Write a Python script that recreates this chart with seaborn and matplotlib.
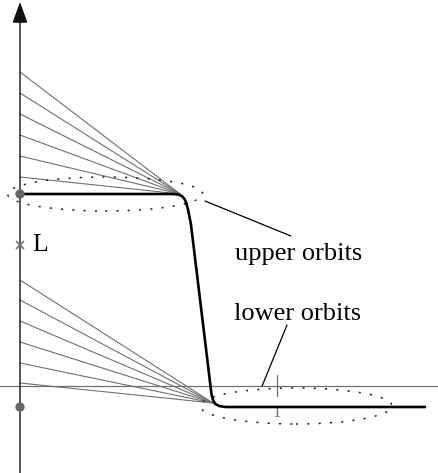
import numpy as np
import pandas as pd
import matplotlib
matplotlib.use("Agg")
import matplotlib.pyplot as plt
import seaborn as sns
from matplotlib.patches import Ellipse

sns.set_theme(style="white")
plt.rcParams['font.family'] = ['Liberation Serif', 'DejaVu Serif']

# ---- data ----
curve_x = [0.0, 0.595, 0.615, 0.630, 0.640, 0.647, 0.654, 0.665, 0.745, 0.751, 0.760, 0.775, 0.800, 0.860, 1.576]
curve_y = [1.92, 1.92, 1.915, 1.90, 1.87, 1.83, 1.76, 1.62, -0.08, -0.14, -0.18, -0.20, -0.21, -0.21, -0.21]

upper_start_y = [3.14, 2.93, 2.72, 2.51, 2.30, 2.09]
upper_end = (0.623, 1.92)
lower_start_y = [1.06, 0.86, 0.65, 0.44, 0.23, 0.03]
lower_end = (0.751, -0.17)

upper_level = 1.92
lower_level = -0.21
L_value = 1.41
tick_x = [1.0]
tick_labels = ["1"]

# ---- build long-form tables ----
rows = []
for i, y0 in enumerate(upper_start_y):
    rows.append(dict(line=f"u{i}", x=0.0, y=y0))
    rows.append(dict(line=f"u{i}", x=upper_end[0], y=upper_end[1]))
for i, y0 in enumerate(lower_start_y):
    rows.append(dict(line=f"l{i}", x=0.0, y=y0))
    rows.append(dict(line=f"l{i}", x=lower_end[0], y=lower_end[1]))
fan = pd.DataFrame(rows)
curve = pd.DataFrame(dict(x=curve_x, y=curve_y))

W, H = 438, 473
fig = plt.figure(figsize=(W / 100, H / 100), dpi=100)
ax = fig.add_axes([0, 0, 1, 1])
# pixel mapping: x=0 at px 20, x=1 at px 277; y=0 at px 386, 100 px per unit
ax.set_xlim(-20 / 257, (W - 20) / 257)
ax.set_ylim((386 - H) / 100, 386 / 100)
ax.axis("off")

gray = "#707070"

# horizontal axis line
ax.axhline(0, color=gray, lw=0.9, zorder=1)
# tick at 1
for tx, tl in zip(tick_x, tick_labels):
    ax.plot([tx, tx], [0.11, -0.10], color=gray, lw=0.9, zorder=1)
    ax.text(tx, -0.27, tl, color=gray, fontsize=12, ha="center", va="center", zorder=1)

# fan lines
sns.lineplot(data=fan, x="x", y="y", units="line", estimator=None, sort=False,
             color=gray, lw=0.8, ax=ax, legend=False, zorder=2)

# thick curve
sns.lineplot(data=curve, x="x", y="y", sort=False, estimator=None,
             color="black", lw=1.9, ax=ax, legend=False, zorder=4)

# vertical axis with arrow
ax.annotate("", xy=(0, 3.84), xytext=(0, (386 - H) / 100),
            arrowprops=dict(arrowstyle="-|>,head_length=1.3,head_width=0.47",
                            mutation_scale=10, color="#111111", lw=1.0,
                            shrinkA=0, shrinkB=0), zorder=3)

# dots on the axis
sns.scatterplot(x=[0, 0], y=[upper_level, lower_level], color="#666666", s=45,
                edgecolor="none", ax=ax, zorder=5, legend=False)
# L marker
ax.plot([0], [L_value], marker="x", color=gray, ms=6, mew=1.2, zorder=5)
ax.text(0.047, L_value, "L", fontsize=18.5, ha="left", va="center", color="black")

# dotted ellipses
for (cx, cy, w, h) in [(0.331, 1.92, 0.759, 0.34), (1.074, -0.20, 0.747, 0.36)]:
    e = Ellipse((cx, cy), w, h, fill=False, edgecolor="#222222", lw=1.1,
                linestyle=(0, (1.4, 6)), zorder=3)
    ax.add_patch(e)

# annotation leader lines
ax.plot([0.720, 1.054], [1.85, 1.50], color="black", lw=0.9, zorder=3)
ax.plot([0.942, 1.039], [0.0, 0.61], color="black", lw=0.9, zorder=3)
ax.text(0.837, 1.26, "upper orbits", fontsize=19, ha="left", va="baseline", color="black")
ax.text(0.833, 0.66, "lower orbits", fontsize=19, ha="left", va="baseline", color="black")

fig.savefig("out.png", dpi=100)
